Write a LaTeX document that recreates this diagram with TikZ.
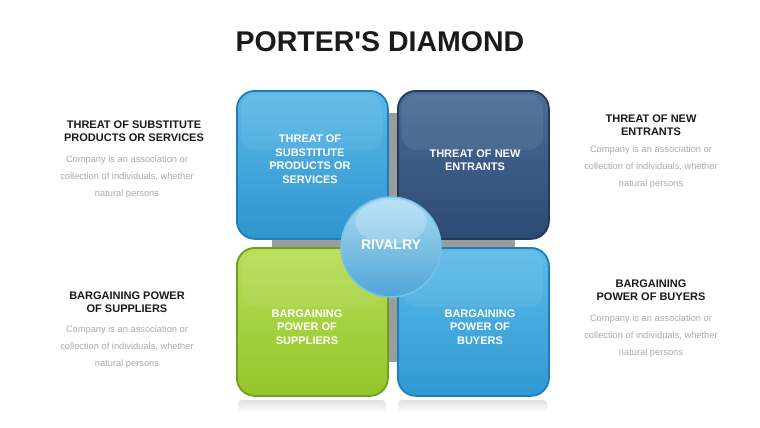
\documentclass[tikz,border=0pt]{standalone}
\usepackage{fontspec}
\setmainfont{Liberation Sans}
\usetikzlibrary{shapes.geometric}
\definecolor{tlA}{HTML}{5CB9E6}
\definecolor{tlB}{HTML}{2E94CF}
\definecolor{tlD}{HTML}{1F7DB8}
\definecolor{trA}{HTML}{4A6C97}
\definecolor{trB}{HTML}{2C4A73}
\definecolor{trD}{HTML}{22395A}
\definecolor{blA}{HTML}{B8DE55}
\definecolor{blB}{HTML}{93C62B}
\definecolor{blD}{HTML}{6E9F1E}
\definecolor{brA}{HTML}{5DBBE8}
\definecolor{brB}{HTML}{2F98D3}
\definecolor{brD}{HTML}{1F7DB8}
\definecolor{crA}{HTML}{A9DAF2}
\definecolor{crB}{HTML}{4FA6D8}
\definecolor{crD}{HTML}{7CC2E6}
\definecolor{barc}{HTML}{9C9C9C}
\definecolor{bodyc}{HTML}{ABABAB}
\definecolor{headc}{HTML}{1A1A1A}
\tikzset{
  quad/.style={rounded corners=18pt, minimum width=151pt, minimum height=148pt, line width=1.8pt, inner sep=0pt, anchor=north west},
  qtext/.style={text=white, font=\fontsize{11}{13.5}\selectfont\bfseries, align=center},
  head/.style={text=headc, font=\fontsize{11}{12.5}\selectfont\bfseries, align=center},
  body/.style={text=bodyc, font=\fontsize{9.3}{17}\selectfont, align=center},
  refl/.style={top color=black!12, bottom color=white, draw=none},
  gloss/.style={white, opacity=0.07, rounded corners=14pt}
}
\begin{document}
\begin{tikzpicture}[x=1pt,y=-1pt]
\useasboundingbox (0,0) rectangle (760,428);
\fill[white] (0,0) rectangle (760,428);
% title
\node[font=\fontsize{28.5}{30}\selectfont\bfseries, text=headc] (title) at (380,42) {PORTER\textquotesingle S DIAMOND};
% gray cross
\fill[barc] (385,113) rectangle (398,362);
\fill[barc] (272,238) rectangle (515,248);
% reflections
\shade[refl, rounded corners=4pt] (238,400) rectangle (386,412);
\shade[refl, rounded corners=4pt] (398,400) rectangle (547,412);
% quadrants
\node[quad, top color=tlA, bottom color=tlB, draw=tlD] (tl) at (236,90) {};
\node[quad, top color=trA, bottom color=trB, draw=trD] (tr) at (397,90) {};
\node[quad, top color=blA, bottom color=blB, draw=blD] (bl) at (236,247) {};
\node[quad, top color=brA, bottom color=brB, draw=brD] (br) at (397,247) {};
% gloss highlights
\fill[gloss] (241,94) rectangle (382,150);
\fill[gloss] (402,94) rectangle (543,150);
\fill[gloss] (241,251) rectangle (382,307);
\fill[gloss] (402,251) rectangle (543,307);
% quadrant texts
\node[qtext] (tlt) at (310,159) {THREAT OF\\SUBSTITUTE\\PRODUCTS OR\\SERVICES};
\node[qtext] (trt) at (475,160) {THREAT OF NEW\\ENTRANTS};
\node[qtext] (blt) at (307,327) {BARGAINING\\POWER OF\\SUPPLIERS};
\node[qtext] (brt) at (480,327) {BARGAINING\\POWER OF\\BUYERS};
% rivalry circle
\node[circle, minimum size=100pt, inner sep=0pt, top color=crA, bottom color=crB, draw=crD, line width=1.5pt] (riv) at (391,247) {};
\fill[white, opacity=0.22] (391,222) ellipse (36pt and 22pt);
\node[text=white, font=\fontsize{14}{16}\selectfont\bfseries] (rivt) at (391,245) {RIVALRY};
% side texts
\node[head] (h1) at (134,131) {THREAT OF SUBSTITUTE\\PRODUCTS OR SERVICES};
\node[body] (b1) at (127,177) {Company is an association or\\collection of individuals, whether\\natural persons};
\node[head] (h2) at (651,125) {THREAT OF NEW\\ENTRANTS};
\node[body] (b2) at (651,167) {Company is an association or\\collection of individuals, whether\\natural persons};
\node[head] (h3) at (127,302) {BARGAINING POWER\\OF SUPPLIERS};
\node[body] (b3) at (127,347) {Company is an association or\\collection of individuals, whether\\natural persons};
\node[head] (h4) at (651,290) {BARGAINING\\POWER OF BUYERS};
\node[body] (b4) at (651,336) {Company is an association or\\collection of individuals, whether\\natural persons};
\end{tikzpicture}
\end{document}
